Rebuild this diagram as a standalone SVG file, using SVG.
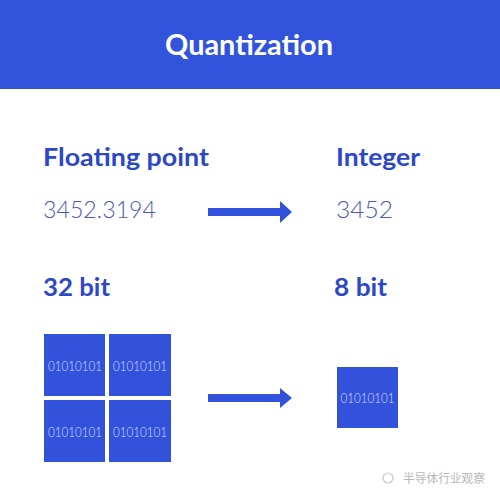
<svg xmlns="http://www.w3.org/2000/svg" width="500" height="500" viewBox="0 0 500 500">
<defs>
<style>
.hd{font-family:"Lato","Open Sans",sans-serif;font-weight:700;fill:#2C48C6;font-size:24.5px}
.num{font-family:"Lato","Open Sans",sans-serif;font-weight:300;fill:#4A5AAE;font-size:23.5px}
.sq{fill:#3352DB}
.bits{font-family:"Lato","Open Sans",sans-serif;font-weight:300;fill:#D6DEFF;font-size:14.5px;text-anchor:middle}
.arrow{fill:#3352DB}
</style>
</defs>
<rect width="500" height="500" fill="#FFFFFF"/>
<g id="header">
<rect x="0" y="0" width="500" height="89" fill="#3253DB"/>
<text x="165" y="55" textLength="168" lengthAdjust="spacingAndGlyphs" font-family="Lato, 'Open Sans', sans-serif" font-weight="700" font-size="28" fill="#FFFFFF">Quantization</text>
</g>
<g id="floating">
<text class="hd" x="43" y="166" textLength="166" lengthAdjust="spacingAndGlyphs">Floating point</text>
<text class="num" x="43" y="218" textLength="113" lengthAdjust="spacingAndGlyphs">3452.3194</text>
</g>
<g id="integer">
<text class="hd" x="336" y="166" textLength="84" lengthAdjust="spacingAndGlyphs">Integer</text>
<text class="num" x="336" y="218" textLength="57" lengthAdjust="spacingAndGlyphs">3452</text>
</g>
<g id="bits32">
<text class="hd" x="43" y="296" textLength="67" lengthAdjust="spacingAndGlyphs">32 bit</text>
<rect class="sq" x="44" y="334" width="61" height="62"/>
<rect class="sq" x="109" y="334" width="62" height="62"/>
<rect class="sq" x="44" y="400" width="61" height="62"/>
<rect class="sq" x="109" y="400" width="62" height="62"/>
<text class="bits" x="75" y="371" textLength="54" lengthAdjust="spacingAndGlyphs">01010101</text>
<text class="bits" x="140" y="371" textLength="54" lengthAdjust="spacingAndGlyphs">01010101</text>
<text class="bits" x="75" y="437" textLength="54" lengthAdjust="spacingAndGlyphs">01010101</text>
<text class="bits" x="140" y="437" textLength="54" lengthAdjust="spacingAndGlyphs">01010101</text>
</g>
<g id="bits8">
<text class="hd" x="334" y="296" textLength="53" lengthAdjust="spacingAndGlyphs">8 bit</text>
<rect class="sq" x="337" y="367" width="61" height="61"/>
<text class="bits" x="367.5" y="403" textLength="54" lengthAdjust="spacingAndGlyphs">01010101</text>
</g>
<g id="connectors">
<polygon class="arrow" points="208,208 280,208 280,201 292,212 280,223 280,216 208,216"/>
<polygon class="arrow" points="208,394 280,394 280,388 292,398 280,408 280,402 208,402"/>
</g>
<g id="watermark">
<circle cx="388" cy="478" r="5" fill="none" stroke="#C8C8C8" stroke-width="1.2"/>
<text x="403" y="483" textLength="82" lengthAdjust="spacingAndGlyphs" font-family="'Noto Sans CJK SC', sans-serif" font-size="12" fill="#B8B8B8">半导体行业观察</text>
</g>
</svg>
